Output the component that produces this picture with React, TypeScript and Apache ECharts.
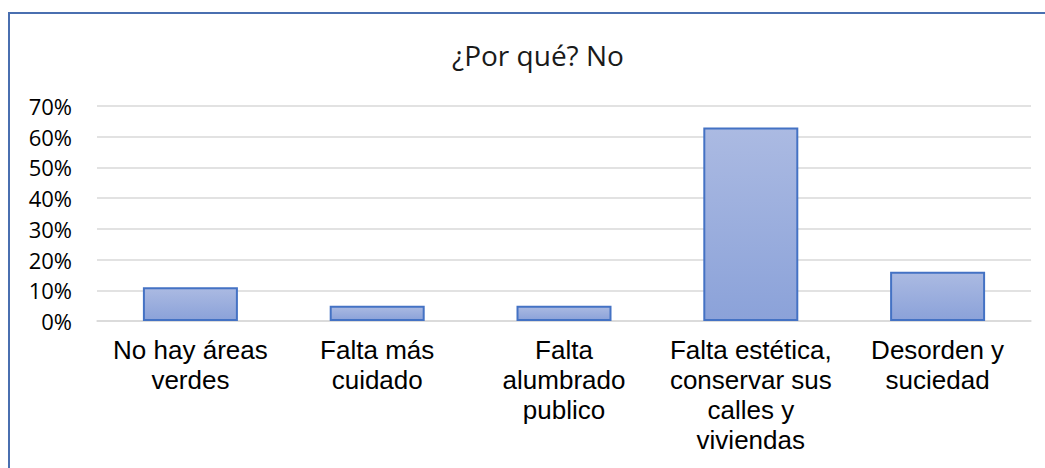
import React, { useEffect, useRef } from "react";
import * as echarts from "echarts";

const categories = [
  "No hay áreas\nverdes",
  "Falta más\ncuidado",
  "Falta\nalumbrado\npublico",
  "Falta estética,\nconservar sus\ncalles y\nviviendas",
  "Desorden y\nsuciedad",
];
const values = [0.11, 0.05, 0.05, 0.63, 0.16];
const titleText = "¿Por qué? No";

export default function App() {
  const ref = useRef<HTMLDivElement>(null);
  useEffect(() => {
    const chart = echarts.init(ref.current!, null, { renderer: "svg" });
    chart.setOption({
      animation: false,
      backgroundColor: "#ffffff",
      title: {
        text: titleText,
        left: 533,
        top: 36,
        textAlign: "center",
        textStyle: { fontFamily: "Open Sans", fontSize: 28, fontWeight: "normal", color: "#1a1a1a" },
      },
      graphic: [
        {
          type: "rect",
          shape: { x: 9, y: 13, width: 1100, height: 500 },
          style: { fill: "none", stroke: "#4a6fb0", lineWidth: 2 },
          z: 10,
        },
      ],
      grid: { left: 97, right: 14, top: 106, bottom: 147, containLabel: false },
      xAxis: {
        type: "category",
        data: categories,
        axisLine: { lineStyle: { color: "#d9d9d9", width: 1.5 } },
        axisTick: { show: false },
        axisLabel: {
          interval: 0,
          margin: 14,
          fontFamily: "Liberation Sans",
          fontSize: 26,
          lineHeight: 30,
          color: "#000000",
        },
      },
      yAxis: {
        type: "value",
        min: 0,
        max: 0.7,
        interval: 0.1,
        axisLine: { show: false },
        axisTick: { show: false },
        splitLine: { lineStyle: { color: "#d9d9d9", width: 1.5 } },
        axisLabel: {
          margin: 25,
          fontFamily: "Open Sans",
          fontSize: 22,
          color: "#000000",
          formatter: (v: number) => Math.round(v * 100) + "%",
        },
      },
      series: [
        {
          type: "bar",
          data: values,
          barWidth: 95,
          itemStyle: {
            color: new echarts.graphic.LinearGradient(0, 0, 0, 1, [
              { offset: 0, color: "#abbae2" },
              { offset: 1, color: "#8ba2d9" },
            ]),
            borderColor: "#4472c4",
            borderWidth: 2,
          },
        },
      ],
    });
    return () => chart.dispose();
  }, []);
  return (
    <div
      ref={ref}
      style={{ position: "fixed", left: 0, top: 0, width: 1045, height: 468 }}
    />
  );
}
